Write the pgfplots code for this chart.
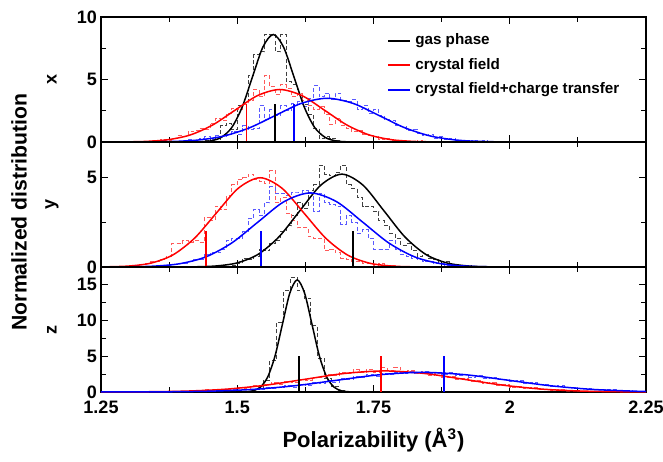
\documentclass[border=0pt]{standalone}
\usepackage{fontspec}
\setmainfont{Liberation Sans}
\usepackage{pgfplots}
\pgfplotsset{compat=1.18}

\pgfplotsset{
  panel/.style={
    scale only axis, width=272.5pt, height=62.5pt,
    xmin=1.25, xmax=2.25, enlargelimits=false,
    xtick={1.25,1.5,1.75,2,2.25}, minor x tick num=1,
    minor y tick num=1,
    tick align=inside, tick pos=both,
    major tick length=3.5pt, minor tick length=2.5pt,
    axis line style={line width=1pt},
    every tick/.style={line width=0.6pt, black},
    tick label style={font=\bfseries\fontsize{9}{10}\selectfont},
    yticklabel style={xshift=1.5pt},
    xticklabel style={yshift=-1pt},
    /pgf/number format/assume math mode=true,
    ylabel style={at={(axis description cs:-0.09,0.5)}, anchor=center,
      font=\bfseries\fontsize{9}{10}\selectfont},
  },
  curve/.style={smooth, line width=0.75pt, no marks, forget plot},
  hist/.style={const plot, dashed, dash pattern=on 2pt off 1.2pt, line width=0.5pt, no marks, forget plot},
  vline/.style={line width=0.95pt, no marks, forget plot},
}

\begin{document}
\begin{tikzpicture}

% ---------- x component ----------
\begin{axis}[panel, at={(0,125pt)}, anchor=south west,
  ymin=0, ymax=10, ytick={0,5,10}, xticklabels={},
  ylabel={x},
  legend style={at={(axis description cs:0.525,0.90)}, anchor=north west,
    draw=none, fill=none, inner sep=0pt, row sep=1.2pt,
    font=\bfseries\fontsize{7.6}{9}\selectfont},
  legend cell align=left,
  legend image code/.code={\draw[#1] (0pt,0pt) -- (11pt,0pt);},
]
\addlegendimage{draw=black, line width=0.9pt}
\addlegendentry{gas phase}
\addlegendimage{draw=red, line width=0.9pt}
\addlegendentry{crystal field}
\addlegendimage{draw=blue, line width=0.9pt}
\addlegendentry{crystal field+charge transfer}
\addplot[hist, black!75] coordinates {(1.44,0.1)(1.45,0.3)(1.46,0.2)(1.47,1.3)(1.48,1.5)(1.49,1.0)(1.50,2.9)(1.51,3.0)(1.52,5.3)(1.53,7.0)(1.54,7.2)(1.55,8.6)(1.56,8.6)(1.57,7.2)(1.58,8.6)(1.59,4.8)(1.60,4.6)(1.61,3.7)(1.62,3.0)(1.63,2.2)(1.64,1.1)(1.65,0.3)(1.66,0.4)(1.67,0.3)(1.68,0.1)(1.69,0)};
\addplot[hist, red!65] coordinates {(1.30,0.05)(1.31,0.0)(1.32,0.05)(1.33,0.05)(1.34,0.1)(1.35,0.1)(1.36,0.2)(1.37,0.15)(1.38,0.3)(1.39,0.5)(1.40,0.4)(1.41,0.8)(1.42,0.9)(1.43,1.1)(1.44,1.0)(1.45,1.5)(1.46,1.9)(1.47,1.7)(1.48,2.3)(1.49,2.7)(1.50,2.6)(1.51,3.0)(1.52,3.3)(1.53,4.2)(1.54,3.6)(1.55,5.3)(1.56,4.4)(1.57,3.8)(1.58,4.6)(1.59,4.3)(1.60,3.6)(1.61,3.9)(1.62,3.3)(1.63,2.9)(1.64,2.6)(1.65,2.8)(1.66,2.2)(1.67,1.4)(1.68,1.9)(1.69,1.3)(1.70,1.1)(1.71,0.8)(1.72,0.9)(1.73,0.6)(1.74,0.5)(1.75,0.4)(1.76,0.2)(1.77,0.3)(1.78,0.15)(1.79,0.1)(1.80,0.15)(1.81,0.05)(1.82,0.05)(1.83,0.1)(1.84,0.0)(1.85,0.05)(1.86,0)};
\addplot[hist, blue!65] coordinates {(1.40,0.1)(1.41,0.2)(1.42,0.1)(1.43,0.3)(1.44,0.4)(1.45,0.2)(1.46,0.5)(1.47,0.4)(1.48,0.6)(1.49,0.8)(1.50,0.6)(1.51,1.3)(1.52,1.0)(1.53,1.1)(1.54,2.9)(1.55,1.8)(1.56,2.6)(1.57,2.1)(1.58,2.9)(1.59,2.5)(1.60,3.1)(1.61,3.2)(1.62,2.8)(1.63,3.5)(1.64,4.5)(1.65,3.6)(1.66,3.9)(1.67,3.4)(1.68,3.9)(1.69,3.3)(1.70,3.2)(1.71,3.4)(1.72,2.6)(1.73,2.9)(1.74,2.3)(1.75,2.6)(1.76,2.1)(1.77,1.8)(1.78,1.7)(1.79,1.3)(1.80,1.2)(1.81,0.9)(1.82,1.0)(1.83,0.7)(1.84,0.5)(1.85,0.6)(1.86,0.3)(1.87,0.4)(1.88,0.2)(1.89,0.3)(1.90,0.1)(1.91,0.15)(1.92,0.05)(1.93,0.1)(1.94,0.05)(1.95,0.1)(1.96,0.05)(1.97,0.0)(1.98,0.05)(1.99,0.05)(2.00,0)};
\addplot[curve, black] coordinates {(1.25,0)(1.414,0.003)(1.433,0.019)(1.452,0.095)(1.471,0.378)(1.49,1.164)(1.509,2.792)(1.528,5.216)(1.547,7.590)(1.566,8.6)(1.585,7.590)(1.604,5.216)(1.623,2.792)(1.642,1.164)(1.661,0.378)(1.68,0.095)(1.699,0.019)(1.718,0.003)(2.25,0)};
\addplot[curve, red] coordinates {(1.25,0.001)(1.291,0.009)(1.332,0.047)(1.373,0.184)(1.414,0.568)(1.455,1.364)(1.496,2.547)(1.537,3.707)(1.578,4.2)(1.619,3.707)(1.66,2.547)(1.701,1.364)(1.742,0.568)(1.783,0.184)(1.824,0.047)(1.865,0.009)(1.906,0.001)(2.25,0)};
\addplot[curve, blue] coordinates {(1.25,0)(1.285,0.001)(1.3325,0.008)(1.38,0.039)(1.4275,0.154)(1.475,0.474)(1.5225,1.136)(1.57,2.123)(1.6175,3.089)(1.665,3.5)(1.7125,3.089)(1.76,2.123)(1.8075,1.136)(1.855,0.474)(1.9025,0.154)(1.95,0.039)(1.9975,0.008)(2.045,0.001)(2.25,0)};
\addplot[vline, draw=black] coordinates {(1.570,0)(1.570,3)};
\addplot[vline, draw=red] coordinates {(1.517,0)(1.517,3)};
\addplot[vline, draw=blue] coordinates {(1.604,0)(1.604,3)};
\end{axis}

% ---------- y component ----------
\begin{axis}[panel, at={(0,62.5pt)}, anchor=south west,
  ymin=0, ymax=7, ytick={0,5}, xticklabels={},
  ylabel={y},
]
\addplot[hist, black!75] coordinates {(1.49,0.1)(1.50,0.2)(1.51,0.5)(1.52,0.4)(1.53,0.6)(1.54,1.0)(1.55,0.9)(1.56,1.3)(1.57,1.5)(1.58,2.0)(1.59,2.3)(1.60,2.9)(1.61,3.6)(1.62,3.3)(1.63,4.3)(1.64,4.6)(1.65,5.7)(1.66,5.2)(1.67,5.1)(1.68,5.3)(1.69,5.7)(1.70,4.6)(1.71,4.4)(1.72,3.9)(1.73,3.4)(1.74,3.4)(1.75,3.1)(1.76,2.6)(1.77,2.3)(1.78,1.9)(1.79,1.6)(1.80,1.2)(1.81,1.3)(1.82,0.9)(1.83,0.6)(1.84,0.7)(1.85,0.5)(1.86,0.4)(1.87,0.2)(1.88,0.3)(1.89,0.1)(1.90,0.15)(1.91,0.05)(1.92,0.1)(1.93,0)};
\addplot[hist, red!65] coordinates {(1.26,0.05)(1.27,0.0)(1.28,0.05)(1.29,0.05)(1.30,0.1)(1.31,0.05)(1.32,0.15)(1.33,0.2)(1.34,0.3)(1.35,0.3)(1.36,0.4)(1.37,0.6)(1.38,1.3)(1.39,1.3)(1.40,1.5)(1.41,1.4)(1.42,1.5)(1.43,1.4)(1.44,2.8)(1.45,2.6)(1.46,3.4)(1.47,3.2)(1.48,4.0)(1.49,4.6)(1.50,4.9)(1.51,5.0)(1.52,5.2)(1.53,4.9)(1.54,4.8)(1.55,4.7)(1.56,5.4)(1.57,3.6)(1.58,3.9)(1.59,3.0)(1.60,2.6)(1.61,2.2)(1.62,2.2)(1.63,1.7)(1.64,1.6)(1.65,1.6)(1.66,0.9)(1.67,1.0)(1.68,0.8)(1.69,0.5)(1.70,0.4)(1.71,0.3)(1.72,0.3)(1.73,0.2)(1.74,0.2)(1.75,0.1)(1.76,0.2)(1.77,0.05)(1.78,0.1)(1.79,0.05)(1.80,0)};
\addplot[hist, blue!65] coordinates {(1.34,0.05)(1.35,0.1)(1.36,0.05)(1.37,0.1)(1.38,0.15)(1.39,0.2)(1.40,0.2)(1.41,0.3)(1.42,0.4)(1.43,0.4)(1.44,0.7)(1.45,0.8)(1.46,0.8)(1.47,1.0)(1.48,1.5)(1.49,1.6)(1.50,1.6)(1.51,2.0)(1.52,2.7)(1.53,3.2)(1.54,2.9)(1.55,3.6)(1.56,4.5)(1.57,4.1)(1.58,4.1)(1.59,4.0)(1.60,4.2)(1.61,4.2)(1.62,4.3)(1.63,4.1)(1.64,3.1)(1.65,4.1)(1.66,3.6)(1.67,3.5)(1.68,3.4)(1.69,2.4)(1.70,2.9)(1.71,2.5)(1.72,1.9)(1.73,2.1)(1.74,1.6)(1.75,1.0)(1.76,1.0)(1.77,1.0)(1.78,1.5)(1.79,1.0)(1.80,0.7)(1.81,0.6)(1.82,0.5)(1.83,0.4)(1.84,0.3)(1.85,0.3)(1.86,0.2)(1.87,0.2)(1.88,0.1)(1.89,0.1)(1.90,0.05)(1.91,0.1)(1.92,0.05)(1.93,0.05)(1.94,0)};
\addplot[curve, black] coordinates {(1.25,0)(1.384,0.002)(1.4225,0.011)(1.461,0.058)(1.4995,0.228)(1.538,0.704)(1.5765,1.688)(1.615,3.154)(1.6535,4.589)(1.692,5.2)(1.7305,4.589)(1.769,3.154)(1.8075,1.688)(1.846,0.704)(1.8845,0.228)(1.923,0.058)(1.9615,0.011)(2.0,0.002)(2.25,0)};
\addplot[curve, red] coordinates {(1.25,0.006)(1.262,0.011)(1.302,0.056)(1.342,0.220)(1.382,0.677)(1.422,1.624)(1.462,3.033)(1.502,4.413)(1.542,5.0)(1.582,4.413)(1.622,3.033)(1.662,1.624)(1.702,0.677)(1.742,0.220)(1.782,0.056)(1.822,0.011)(1.862,0.002)(2.25,0)};
\addplot[curve, blue] coordinates {(1.25,0.001)(1.298,0.009)(1.346,0.046)(1.394,0.182)(1.442,0.561)(1.490,1.347)(1.538,2.517)(1.586,3.662)(1.634,4.15)(1.682,3.662)(1.730,2.517)(1.778,1.347)(1.826,0.561)(1.874,0.182)(1.922,0.046)(1.970,0.009)(2.018,0.001)(2.25,0)};
\addplot[vline, draw=red] coordinates {(1.442,0)(1.442,2)};
\addplot[vline, draw=blue] coordinates {(1.544,0)(1.544,2)};
\addplot[vline, draw=black] coordinates {(1.713,0)(1.713,2)};
\end{axis}

% ---------- z component ----------
\begin{axis}[panel, at={(0,0)}, anchor=south west,
  ymin=0, ymax=17.5, ytick={0,5,10,15},
  xticklabels={1.25,1.5,1.75,2,2.25},
  ylabel={z},
  xlabel={Polarizability (Å\textsuperscript{3})},
  xlabel style={at={(axis description cs:0.5,0)}, anchor=center, yshift=-24pt,
    font=\bfseries\fontsize{11}{12}\selectfont},
]
\addplot[hist, black!75] coordinates {(1.535,0.3)(1.5475,1.6)(1.56,4.4)(1.5725,9.8)(1.585,14.2)(1.5975,16.1)(1.61,14.2)(1.6225,13.1)(1.635,9.3)(1.6475,4.7)(1.66,1.9)(1.6725,0.8)(1.685,0.2)(1.6975,0)};
\addplot[hist, red!65] coordinates {(1.4000,0.1)(1.4125,0.2)(1.4250,0.1)(1.4375,0.3)(1.4500,0.2)(1.4625,0.4)(1.4750,0.3)(1.4875,0.5)(1.5000,0.7)(1.5125,0.5)(1.5250,0.9)(1.5375,0.8)(1.5500,1.1)(1.5625,1.3)(1.5750,1.1)(1.5875,1.5)(1.6000,1.4)(1.6125,1.8)(1.6250,1.6)(1.6375,2.1)(1.6500,2.0)(1.6625,2.5)(1.6750,2.3)(1.6875,2.8)(1.7000,2.6)(1.7125,3.1)(1.7250,2.7)(1.7375,3.2)(1.7500,2.8)(1.7625,3.4)(1.7750,3.0)(1.7875,3.5)(1.8000,2.7)(1.8125,3.0)(1.8250,2.6)(1.8375,2.9)(1.8500,2.3)(1.8625,2.6)(1.8750,2.0)(1.8875,2.2)(1.9000,1.8)(1.9125,1.9)(1.9250,1.5)(1.9375,1.6)(1.9500,1.2)(1.9625,1.3)(1.9750,0.9)(1.9875,1.0)(2.0000,0.7)(2.0125,0.8)(2.0250,0.5)(2.0375,0.6)(2.0500,0.3)(2.0625,0.4)(2.0750,0.2)(2.0875,0.3)(2.1000,0.1)(2.1125,0.2)(2.1250,0.1)(2.1375,0.1)(2.15,0)};
\addplot[hist, blue!65] coordinates {(1.4500,0.1)(1.4625,0.2)(1.4750,0.1)(1.4875,0.3)(1.5000,0.2)(1.5125,0.3)(1.5250,0.4)(1.5375,0.3)(1.5500,0.6)(1.5625,0.5)(1.5750,0.7)(1.5875,0.9)(1.6000,0.7)(1.6125,1.1)(1.6250,0.9)(1.6375,1.3)(1.6500,1.2)(1.6625,1.6)(1.6750,1.4)(1.6875,1.9)(1.7000,1.7)(1.7125,2.2)(1.7250,2.0)(1.7375,2.4)(1.7500,2.2)(1.7625,2.6)(1.7750,2.4)(1.7875,2.8)(1.8000,2.6)(1.8125,2.9)(1.8250,2.6)(1.8375,2.9)(1.8500,2.6)(1.8625,2.8)(1.8750,2.5)(1.8875,2.7)(1.9000,2.3)(1.9125,2.5)(1.9250,2.1)(1.9375,2.3)(1.9500,1.9)(1.9625,2.1)(1.9750,1.7)(1.9875,1.8)(2.0000,1.5)(2.0125,1.6)(2.0250,1.2)(2.0375,1.3)(2.0500,1.0)(2.0625,1.1)(2.0750,0.8)(2.0875,0.9)(2.1000,0.6)(2.1125,0.7)(2.1250,0.5)(2.1375,0.5)(2.1500,0.4)(2.1625,0.4)(2.1750,0.3)(2.1875,0.3)(2.2000,0.2)(2.2125,0.2)(2.2250,0.1)(2.2375,0.1)(2.25,0.1)};
\addplot[curve, black] coordinates {(1.25,0)(1.502,0.005)(1.5155,0.035)(1.529,0.174)(1.5425,0.689)(1.556,2.124)(1.5695,5.098)(1.583,9.522)(1.5965,13.855)(1.61,15.7)(1.6235,13.855)(1.637,9.522)(1.6505,5.098)(1.664,2.124)(1.6775,0.689)(1.691,0.174)(1.7045,0.035)(1.718,0.005)(2.25,0)};
\addplot[curve, red] coordinates {(1.25,0.005)(1.2625,0.006)(1.335,0.033)(1.4075,0.130)(1.48,0.399)(1.5525,0.958)(1.625,1.789)(1.6975,2.603)(1.77,2.95)(1.8425,2.603)(1.915,1.789)(1.9875,0.958)(2.06,0.399)(2.1325,0.130)(2.205,0.033)(2.25,0.012)};
\addplot[curve, blue] coordinates {(1.25,0.002)(1.2975,0.006)(1.375,0.031)(1.4525,0.121)(1.53,0.372)(1.6075,0.893)(1.685,1.668)(1.7625,2.427)(1.84,2.75)(1.9175,2.427)(1.995,1.668)(2.0725,0.893)(2.15,0.372)(2.2275,0.121)(2.25,0.083)};
\addplot[vline, draw=black] coordinates {(1.614,0)(1.614,5)};
\addplot[vline, draw=red] coordinates {(1.763,0)(1.763,5)};
\addplot[vline, draw=blue] coordinates {(1.879,0)(1.879,5)};
\end{axis}

\node[rotate=90, font=\bfseries\fontsize{10.6}{12}\selectfont] at (-41pt,90pt) {Normalized distribution};

\pgfresetboundingbox
\path[use as bounding box] (-50.5pt,-34.5pt) rectangle (281pt,196pt);
\end{tikzpicture}
\end{document}
